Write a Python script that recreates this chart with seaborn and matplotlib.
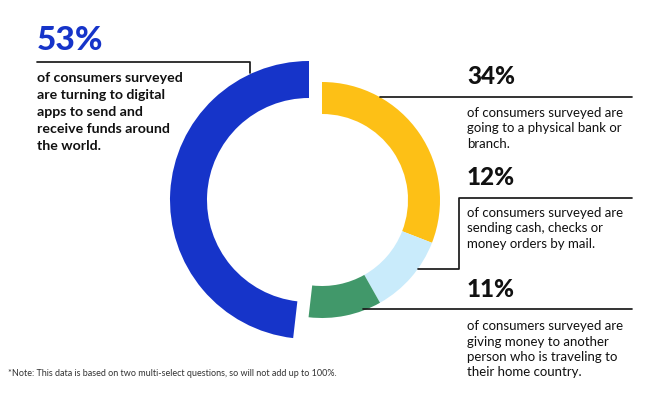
import matplotlib
matplotlib.use("Agg")
import matplotlib.pyplot as plt
import seaborn as sns

sns.set_theme(style="white")
plt.rcParams['font.family'] = ['Lato', 'DejaVu Sans']

# ---- data ----
labels = ["digital apps", "physical bank", "cash by mail", "traveler"]
values = [53, 34, 12, 11]
pct_labels = ["53%", "34%", "12%", "11%"]
colors = ["#1634C9", "#FDC016", "#C9EBFB", "#41986A"]
texts = [
    ["of consumers surveyed", "are turning to digital", "apps to send and",
     "receive funds around", "the world."],
    ["of consumers surveyed are", "going to a physical bank or", "branch."],
    ["of consumers surveyed are", "sending cash, checks or", "money orders by mail."],
    ["of consumers surveyed are", "giving money to another",
     "person who is traveling to", "their home country."],
]
note = "*Note: This data is based on two multi-select questions, so will not add up to 100%."

W, H = 647, 395
fig = plt.figure(figsize=(W / 100, H / 100), dpi=100)
ax = fig.add_axes([0, 0, 1, 1])

def Y(y):
    return H - y

total = sum(values)
# big blue ring (first series)
ax.pie([values[0], total - values[0]], colors=[colors[0], "none"],
       startangle=90, counterclock=True, radius=139, center=(309, Y(200)),
       wedgeprops=dict(width=37, edgecolor="none", linewidth=0), frame=True)
# smaller ring for the other series
ax.pie(values[1:] + [values[0]], colors=colors[1:] + ["none"],
       startangle=90, counterclock=False, radius=118, center=(322, Y(200)),
       wedgeprops=dict(width=32, edgecolor="none", linewidth=0), frame=True)

ax.set_xlim(0, W)
ax.set_ylim(0, H)
ax.set_aspect("auto")
ax.axis("off")

lc = "#1a1a1a"
lw = 1.25
# connector lines
ax.plot([37, 250, 250], [Y(62), Y(62), Y(73)], color=lc, lw=lw)
ax.plot([380, 632], [Y(97), Y(97)], color=lc, lw=lw)
ax.plot([632, 459, 459, 418], [Y(198), Y(198), Y(269), Y(269)], color=lc, lw=lw)
ax.plot([363, 632], [Y(309), Y(309)], color=lc, lw=lw)

# big percentages
ax.text(37, Y(50), pct_labels[0], fontsize=24, fontweight=900, color=colors[0], va="baseline")
big_base = [84, 185, 297]
for i, b in enumerate(big_base):
    ax.text(467, Y(b), pct_labels[i + 1], fontsize=17.5, fontweight=900, color="#111111", va="baseline")

# left bold text
for j, line in enumerate(texts[0]):
    ax.text(37, Y(82 + 17 * j), line, fontsize=10.2, fontweight="bold", color="#111111", va="baseline")

starts = [117, 217, 330]
for i, s in enumerate(starts):
    for j, line in enumerate(texts[i + 1]):
        ax.text(467, Y(s + 15.5 * j), line, fontsize=9.55, color="#111111", va="baseline")

ax.text(8, Y(376), note, fontsize=6.45, color="#333333", va="baseline")

fig.savefig("out.png", dpi=100)
